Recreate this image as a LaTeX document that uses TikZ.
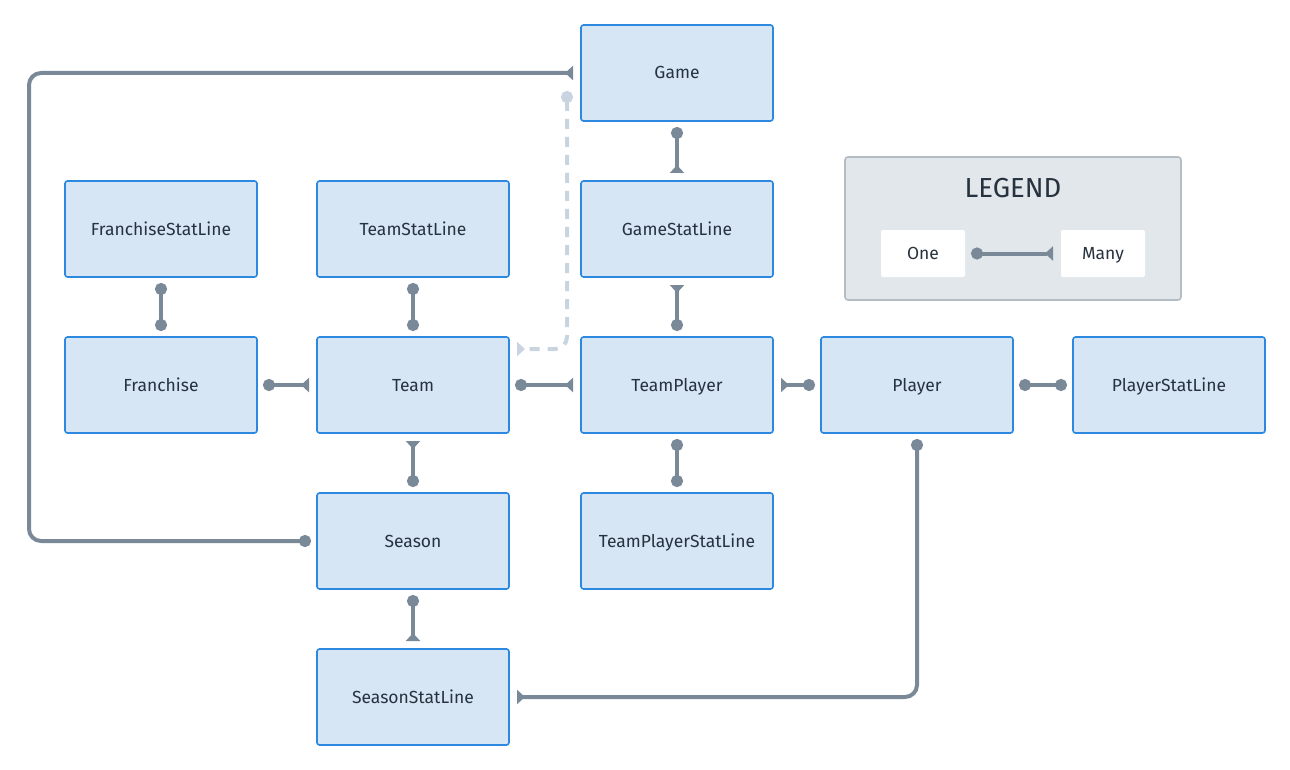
\documentclass[tikz,border=0pt]{standalone}
\usepackage{fontspec}
\setmainfont{Fira Sans}
\usepackage{tikz}
\usetikzlibrary{positioning,arrows.meta,calc}

\definecolor{boxfill}{RGB}{214,230,245}
\definecolor{boxline}{RGB}{45,137,224}
\definecolor{conn}{RGB}{122,137,152}
\definecolor{dashc}{RGB}{200,212,224}
\definecolor{legfill}{RGB}{226,231,236}
\definecolor{legline}{RGB}{180,188,196}
\definecolor{txt}{RGB}{38,50,62}

\begin{document}
\begin{tikzpicture}[
  node distance=60pt and 60pt,
  every node/.style={font=\fontsize{17.5}{21}\selectfont, text=txt},
  ent/.style={draw=boxline, fill=boxfill, line width=1.6pt, rounded corners=2.5pt, minimum width=192pt, minimum height=96pt, inner sep=2pt, outer sep=0pt, text height=13pt, text depth=1pt},
  lbox/.style={fill=white, rounded corners=2pt, minimum width=84pt, minimum height=47pt, inner sep=2pt, outer sep=0pt, text height=13pt, text depth=1pt},
  link/.style={draw=conn, line width=4pt},
  oo/.style={link, {Circle[length=12pt]}-{Circle[length=12pt]}, shorten <=6pt, shorten >=6pt},
  om/.style={link, {Circle[length=12pt]}-{Triangle[reversed,length=8pt,width=14pt]}, shorten <=6pt, shorten >=8pt},
  mo/.style={link, {Triangle[reversed,length=8pt,width=14pt]}-{Circle[length=12pt]}, shorten <=8pt, shorten >=6pt}
]
\useasboundingbox (0,0) rectangle (1290pt,-770pt);

\node[ent] (game) at (677pt,-73pt) {Game};
\node[ent, below=of game] (gstat) {GameStatLine};
\node[ent, below=of gstat] (tplayer) {TeamPlayer};
\node[ent, below=of tplayer] (tpstat) {TeamPlayerStatLine};
\node[ent, left=72pt of tplayer] (team) {Team};
\node[ent, above=of team] (tstat) {TeamStatLine};
\node[ent, below=of team] (season) {Season};
\node[ent, below=of season] (sstat) {SeasonStatLine};
\node[ent, left=of team] (franchise) {Franchise};
\node[ent, above=of franchise] (fstat) {FranchiseStatLine};
\node[ent, right=48pt of tplayer] (player) {Player};
\node[ent, right=of player] (pstat) {PlayerStatLine};

\node[draw=legline, fill=legfill, line width=1.6pt, rounded corners=3pt, minimum width=336pt, minimum height=143pt, outer sep=0pt] (legend) at (1013pt,-228.5pt) {};
\node[font=\fontsize{27.5}{33}\selectfont] (ltitle) at ($(legend.north)+(0,-31pt)$) {LEGEND};
\node[lbox, above right=23pt and 36pt of legend.south west, anchor=south west] (lone) {One};
\node[lbox, above left=23pt and 36pt of legend.south east, anchor=south east] (lmany) {Many};

\coordinate (edgeL) at (29pt,0);
\coordinate (gdot) at ($(game.west)+(-14pt,-18pt)$);
\coordinate (tdash) at ($(team.east)+(0,36pt)$);

\draw[om] (game) -- (gstat);
\draw[oo] (fstat) -- (franchise);
\draw[oo] (tstat) -- (team);
\draw[mo] (gstat) -- (tplayer);
\draw[om] (franchise) -- (team);
\draw[om] (team) -- (tplayer);
\draw[mo] (tplayer) -- (player);
\draw[oo] (player) -- (pstat);
\draw[oo] (tplayer) -- (tpstat);
\draw[mo] (team) -- (season);
\draw[om] (season) -- (sstat);
\draw[om, rounded corners=12pt] (season.west) -- (season.west -| edgeL) -- (game.west -| edgeL) -- (game.west);
\draw[om, rounded corners=12pt] (player.south) -- (player.south |- sstat.east) -- (sstat.east);
\draw[om, draw=dashc, dash pattern=on 10pt off 8pt, rounded corners=12pt, shorten <=0pt] (gdot) -- (gdot |- tdash) -- (tdash);
\draw[om] (lone) -- (lmany);
\end{tikzpicture}
\end{document}
